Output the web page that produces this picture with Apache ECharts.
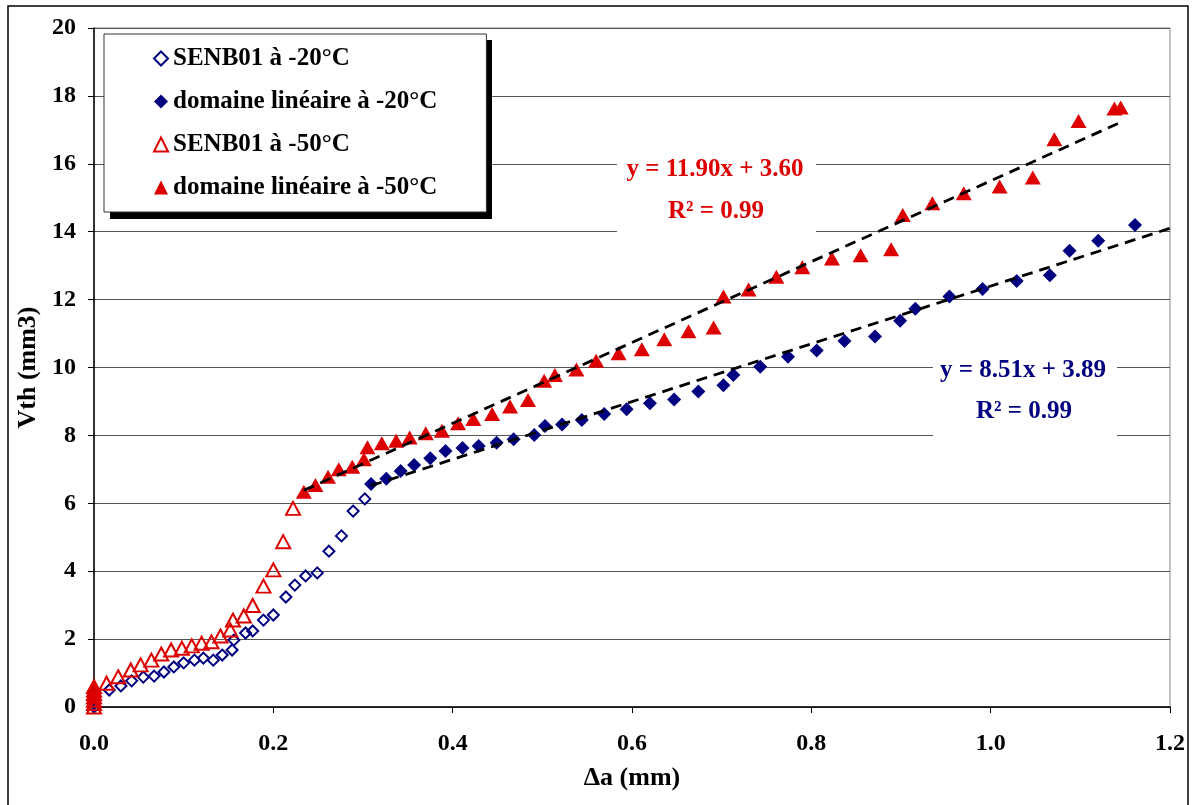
<!DOCTYPE html>
<html>
<head>
<meta charset="utf-8">
<script src="https://cdn.jsdelivr.net/npm/echarts@6/dist/echarts.min.js"></script>
<style>
html,body{margin:0;padding:0;background:#fff;}
#chart{width:1196px;height:805px;}
</style>
</head>
<body>
<div id="chart"></div>
<script>
// ---- Data ----
const seriesNames = ['SENB01 à -20°C', 'domaine linéaire à -20°C', 'SENB01 à -50°C', 'domaine linéaire à -50°C'];

const senb20 = [
  [0,0.0],[0,0.1],[0,0.2],[0,0.3],[0,0.4],
  [0.017,0.50],[0.030,0.62],[0.042,0.77],[0.055,0.88],[0.067,0.91],[0.078,1.03],
  [0.089,1.18],[0.100,1.30],[0.112,1.38],[0.122,1.44],[0.133,1.38],[0.143,1.53],
  [0.154,1.68],[0.156,1.97],[0.169,2.18],[0.177,2.24],[0.189,2.56],[0.200,2.71],
  [0.214,3.24],[0.224,3.59],[0.236,3.86],[0.249,3.95],[0.262,4.59],[0.276,5.04],
  [0.289,5.77],[0.302,6.13]
];

const lin20 = [
  [0.309,6.57],[0.326,6.72],[0.342,6.95],[0.357,7.13],[0.375,7.33],[0.392,7.54],
  [0.411,7.63],[0.429,7.69],[0.449,7.78],[0.468,7.89],[0.491,8.01],[0.503,8.28],
  [0.522,8.32],[0.544,8.45],[0.569,8.63],[0.594,8.77],[0.620,8.95],[0.647,9.06],
  [0.674,9.29],[0.702,9.48],[0.713,9.78],[0.743,10.02],[0.774,10.32],[0.806,10.50],
  [0.837,10.78],[0.871,10.91],[0.899,11.38],[0.916,11.73],[0.954,12.09],[0.991,12.31],
  [1.029,12.55],[1.066,12.72],[1.088,13.44],[1.120,13.73],[1.161,14.20]
];

const senb50 = [
  [0,0.0],[0,0.1],[0,0.2],[0,0.3],[0,0.4],[0,0.5],[0,0.6],
  [0.014,0.70],[0.027,0.89],[0.041,1.09],[0.052,1.24],[0.064,1.38],[0.075,1.56],
  [0.086,1.68],[0.098,1.73],[0.109,1.80],[0.120,1.88],[0.131,1.92],[0.141,2.09],
  [0.152,2.27],[0.155,2.56],[0.167,2.68],[0.177,2.99],[0.189,3.56],[0.200,4.04],
  [0.211,4.87],[0.222,5.85]
];

const lin50 = [
  [0.234,6.34],[0.247,6.54],[0.261,6.78],[0.273,7.00],[0.288,7.08],[0.301,7.30],
  [0.305,7.65],[0.321,7.77],[0.337,7.84],[0.352,7.94],[0.370,8.06],[0.388,8.14],
  [0.406,8.36],[0.423,8.48],[0.444,8.63],[0.464,8.85],[0.484,9.04],[0.502,9.61],
  [0.514,9.78],[0.538,9.94],[0.560,10.20],[0.585,10.42],[0.611,10.54],[0.636,10.83],
  [0.663,11.07],[0.691,11.18],[0.702,12.09],[0.730,12.30],[0.761,12.67],[0.790,12.95],
  [0.823,13.21],[0.855,13.31],[0.889,13.48],[0.902,14.49],[0.935,14.84],[0.970,15.13],
  [1.010,15.33],[1.047,15.60],[1.071,16.72],[1.098,17.26],[1.138,17.63],[1.145,17.66]
];

// Trend line end points (y = 8.51x + 3.89 and y = 11.90x + 3.60)
const trend20 = [[0.309,6.52],[1.2,14.10]];
const trend50 = [[0.234,6.38],[1.143,17.20]];

const eq20 = ['y = 8.51x + 3.89', 'R² = 0.99'];
const eq50 = ['y = 11.90x + 3.60', 'R² = 0.99'];

const xTicks = {min:0, max:1.2, interval:0.2};
const yTicks = {min:0, max:20, interval:2};

// ---- Styles ----
const FONT = '"Liberation Serif", "Times New Roman", serif';
const RED = '#DD0000';
const BLUE = '#000080';

const chart = echarts.init(document.getElementById('chart'), null, {renderer:'canvas'});

const option = {
  animation: false,
  backgroundColor: '#fff',
  grid: {left:94, top:28, width:1076, height:679, show:true, borderColor:'#888', borderWidth:1, backgroundColor:'transparent'},
  xAxis: {
    type:'value', min:xTicks.min, max:xTicks.max, interval:xTicks.interval,
    name:'Δa (mm)', nameLocation:'middle', nameGap:58,
    nameTextStyle:{fontFamily:FONT, fontWeight:'bold', fontSize:26, color:'#000'},
    axisLine:{show:true, onZero:false, lineStyle:{color:'#000', width:1.5}},
    axisTick:{show:true, length:6, lineStyle:{color:'#000'}},
    axisLabel:{margin:25, fontFamily:FONT, fontWeight:'bold', fontSize:24, color:'#000',
      formatter: v => v.toFixed(1)},
    splitLine:{show:false}
  },
  yAxis: {
    type:'value', min:yTicks.min, max:yTicks.max, interval:yTicks.interval,
    name:'Vth (mm3)', nameLocation:'middle', nameGap:50,
    nameTextStyle:{fontFamily:FONT, fontWeight:'bold', fontSize:26, color:'#000'},
    axisLine:{show:true, onZero:false, lineStyle:{color:'#000', width:1.5}},
    axisTick:{show:true, length:6, lineStyle:{color:'#000'}},
    axisLabel:{margin:18, fontFamily:FONT, fontWeight:'bold', fontSize:24, color:'#000'},
    splitLine:{show:true, lineStyle:{color:'#555', width:1}}
  },
  legend: {
    orient:'vertical', left:104, top:34,
    padding:[12,49,12,49], itemGap:18, itemWidth:14, itemHeight:14,
    backgroundColor:'#fff', borderColor:'#333', borderWidth:1,
    selectedMode:false,
    textStyle:{fontFamily:FONT, fontWeight:'bold', fontSize:25, color:'#000'},
    data:[
      {name:seriesNames[0], icon:'diamond', itemStyle:{color:'#fff', borderColor:BLUE, borderWidth:2, opacity:1}},
      {name:seriesNames[1], icon:'diamond', itemStyle:{color:BLUE, borderWidth:0, opacity:1}},
      {name:seriesNames[2], icon:'triangle', itemStyle:{color:'#fff', borderColor:RED, borderWidth:2, opacity:1}},
      {name:seriesNames[3], icon:'triangle', itemStyle:{color:RED, borderWidth:0, opacity:1}}
    ]
  },
  graphic: [
    {type:'rect', z:-1, shape:{x:8, y:6, width:1180, height:820}, style:{fill:'none', stroke:'#000', lineWidth:1.5}, silent:true},
    {type:'rect', z:1, shape:{x:110, y:40, width:382, height:179}, style:{fill:'#000'}, silent:true},
    {type:'rect', z:1, shape:{x:617, y:148, width:199, height:92}, style:{fill:'#fff'}, silent:true},
    {type:'rect', z:1, shape:{x:933, y:350, width:184, height:92}, style:{fill:'#fff'}, silent:true},
    {type:'text', z:10, style:{text:eq50[0], x:715, y:170, align:'center', verticalAlign:'middle', fill:RED, font:'bold 25px ' + FONT}},
    {type:'text', z:10, style:{text:eq50[1], x:716, y:212, align:'center', verticalAlign:'middle', fill:RED, font:'bold 25px ' + FONT}},
    {type:'text', z:10, style:{text:eq20[0], x:1023, y:371, align:'center', verticalAlign:'middle', fill:BLUE, font:'bold 25px ' + FONT}},
    {type:'text', z:10, style:{text:eq20[1], x:1024, y:412, align:'center', verticalAlign:'middle', fill:BLUE, font:'bold 25px ' + FONT}}
  ],
  series: [
    {name:seriesNames[0], type:'scatter', data:senb20, symbol:'diamond', symbolSize:11,
      itemStyle:{color:'rgba(255,255,255,0)', borderColor:BLUE, borderWidth:2, opacity:1}, z:2},
    {name:seriesNames[1], type:'scatter', data:lin20, symbol:'diamond', symbolSize:14,
      itemStyle:{color:BLUE, opacity:1}, z:2},
    {name:seriesNames[2], type:'scatter', data:senb50, symbol:'triangle', symbolSize:[14,13],
      itemStyle:{color:'rgba(255,255,255,0)', borderColor:RED, borderWidth:2, opacity:1}, z:2},
    {name:seriesNames[3], type:'scatter', data:lin50, symbol:'triangle', symbolSize:[16,14],
      itemStyle:{color:RED, opacity:1}, z:2},
    {name:'trend20', type:'line', data:trend20, showSymbol:false, symbol:'none', z:3,
      lineStyle:{color:'#000', width:2.8, type:[11,7]}},
    {name:'trend50', type:'line', data:trend50, showSymbol:false, symbol:'none', z:3,
      lineStyle:{color:'#000', width:2.8, type:[11,7]}}
  ]
};
chart.setOption(option);
</script>
</body>
</html>
